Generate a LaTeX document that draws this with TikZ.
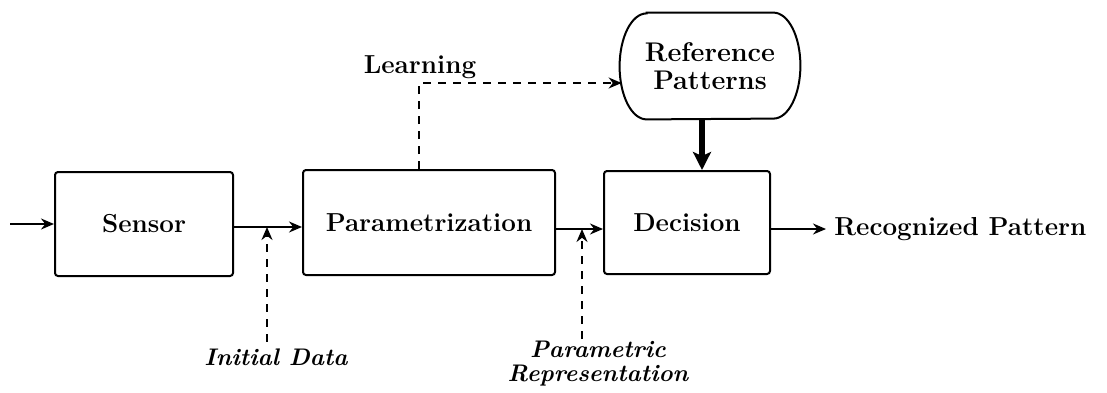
\documentclass[tikz,border=0pt]{standalone}
\usetikzlibrary{arrows.meta}
\begin{document}
\begin{tikzpicture}[x=0.5pt,y=-0.5pt,
  txt/.style={font=\fontsize{13}{15}\selectfont\bfseries},
  itxt/.style={font=\fontsize{12}{14}\selectfont\bfseries\itshape},
  blk/.style={draw,line width=1pt,rounded corners=1.5pt,txt,inner sep=0pt},
  conn/.style={line width=0.9pt,-{Stealth[length=6.5pt,width=5.5pt]}},
  dconn/.style={line width=0.9pt,dash pattern=on 4pt off 3.5pt,-{Stealth[length=6.5pt,width=5.5pt]}},
  heavy/.style={line width=2.6pt,-{Stealth[length=9pt,width=9pt,inset=2pt]}}]
\useasboundingbox (0,0) rectangle (1107,392);
\node[blk,minimum width=89pt,minimum height=52pt] (sensor) at (144,224) {Sensor};
\node[blk,minimum width=126pt,minimum height=52.5pt] (param) at (429,222.5) {Parametrization};
\node[blk,minimum width=83pt,minimum height=51.5pt] (dec) at (687,222.5) {Decision};
\node[minimum width=90pt,minimum height=53pt,font=\fontsize{13.5}{15}\selectfont\bfseries,align=center,inner sep=0pt] (ref) at (710,66) {Reference\\[-1pt]Patterns};
\draw[line width=1pt] ([xshift=13.5pt]ref.north west) -- ([xshift=-13.5pt]ref.north east)
  arc[start angle=90,end angle=-90,x radius=13.5pt,y radius=26.5pt]
  -- ([xshift=13.5pt]ref.south west)
  arc[start angle=270,end angle=90,x radius=13.5pt,y radius=26.5pt] -- cycle;
\node[txt] (learn) at (420,67) {Learning};
\node[itxt] (init) at (276,357) {Initial Data};
\node[itxt,align=center,inner sep=1pt] (prep) at (598,364) {Parametric\\[-2pt]Representation};
\node[txt,anchor=west,inner sep=0pt] (rec) at (834,229) {Recognized Pattern};
\coordinate (in) at (10,224);
\coordinate (j1) at (267,227);
\coordinate (j2) at (582,229);
\coordinate (hv) at (702,119);
\draw[conn] (in) -- (sensor.west |- in);
\draw[conn] (sensor.east |- j1) -- (param.west |- j1);
\draw[conn] (param.east |- j2) -- (dec.west |- j2);
\draw[conn] (dec.east |- rec.west) -- ([xshift=-4pt]rec.west);
\draw[dconn] (init.north -| j1) -- (j1);
\draw[dconn] (prep.north -| j2) -- (j2);
\draw[dconn] ([xshift=-5pt]param.north) |- ([yshift=-8.5pt,xshift=1pt]ref.west);
\draw[heavy] (hv) -- (hv |- dec.north);
\end{tikzpicture}
\end{document}
